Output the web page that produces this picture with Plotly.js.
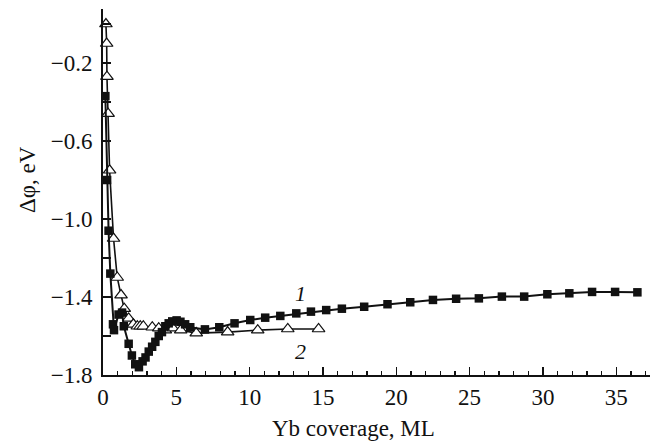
<!DOCTYPE html>
<html>
<head>
<meta charset="utf-8">
<script src="https://cdn.plot.ly/plotly-3.0.1.min.js"></script>
<style>
  html, body { margin: 0; padding: 0; background: #fff; }
  #chart { width: 651px; height: 447px; }
</style>
</head>
<body>
<div id="chart"></div>
<script>
// Curve 1: work-function change, filled squares
const cov1 = [0.16, 0.28, 0.38, 0.5, 0.68, 0.75, 1.06, 1.3, 1.42, 1.75, 1.97, 2.2, 2.45, 2.7, 2.9, 3.12, 3.35, 3.57, 3.8, 4.02, 4.25, 4.48, 4.72, 5.02, 5.28, 5.6, 5.95, 6.95, 7.93, 8.97, 10.04, 11.06, 12.09, 13.18, 14.18, 15.22, 16.29, 17.81, 19.4, 20.95, 22.5, 24.08, 25.63, 27.2, 28.72, 30.3, 31.8, 33.35, 34.92, 36.44];
const dphi1 = [-0.37, -0.80, -1.06, -1.28, -1.54, -1.57, -1.49, -1.48, -1.55, -1.64, -1.70, -1.745, -1.76, -1.73, -1.71, -1.68, -1.655, -1.63, -1.60, -1.58, -1.55, -1.535, -1.525, -1.52, -1.527, -1.54, -1.555, -1.566, -1.555, -1.535, -1.518, -1.506, -1.497, -1.484, -1.475, -1.467, -1.46, -1.45, -1.437, -1.427, -1.415, -1.409, -1.407, -1.398, -1.398, -1.386, -1.381, -1.374, -1.374, -1.376];

// Curve 2: open triangles
const cov2 = [0.2, 0.25, 0.27, 0.35, 0.45, 0.72, 0.97, 1.23, 1.45, 1.75, 2.07, 2.34, 2.54, 2.75, 3.36, 3.8, 4.25, 4.77, 5.3, 6.36, 8.5, 10.55, 12.6, 14.7];
const dphi2 = [0.0, -0.10, -0.27, -0.46, -0.75, -1.10, -1.30, -1.39, -1.46, -1.51, -1.54, -1.55, -1.55, -1.55, -1.555, -1.56, -1.57, -1.56, -1.57, -1.585, -1.58, -1.57, -1.564, -1.564];

// Axis ticks
const xMajor = [0, 5, 10, 15, 20, 25, 30, 35];
const yMajor = [-0.2, -0.6, -1.0, -1.4, -1.8];
const yMajorText = ['\u22120.2', '\u22120.6', '\u22121.0', '\u22121.4', '\u22121.8'];
const yMinor = [0, -0.4, -0.8, -1.2, -1.6];

const serif = 'Liberation Serif, Times New Roman, serif';

const traces = [
  {
    x: cov2, y: dphi2, type: 'scatter', mode: 'lines+markers',
    line: { color: '#111', width: 1.6 },
    marker: { symbol: 'triangle-up', size: 11, color: '#fff', line: { color: '#111', width: 1.2 } },
    cliponaxis: false, showlegend: false
  },
  {
    x: cov1, y: dphi1, type: 'scatter', mode: 'lines+markers',
    line: { color: '#111', width: 2 },
    marker: { symbol: 'square', size: 8.5, color: '#111' },
    cliponaxis: false, showlegend: false
  }
];

const layout = {
  width: 651, height: 447,
  margin: { l: 103, r: 1, t: 9, b: 72 },
  paper_bgcolor: '#fff', plot_bgcolor: '#fff',
  font: { family: serif, size: 23, color: '#111' },
  showlegend: false,
  xaxis: {
    range: [0, 37.3], showgrid: false, zeroline: false,
    showline: true, linecolor: '#111', linewidth: 2,
    ticks: 'inside', ticklen: 8, tickwidth: 1.5, tickcolor: '#111',
    tickmode: 'array', tickvals: xMajor,
    minor: { dtick: 1, tick0: 0, ticks: 'inside', ticklen: 4, tickwidth: 1.2, tickcolor: '#111', showgrid: false },
    tickfont: { family: serif, size: 23, color: '#111' }
  },
  yaxis: {
    range: [-1.8, 0.077], showgrid: false, zeroline: false,
    showline: true, linecolor: '#111', linewidth: 2,
    ticks: 'inside', ticklen: 8, tickwidth: 1.5, tickcolor: '#111',
    tickmode: 'array', tickvals: yMajor, ticktext: yMajorText,
    ticklabelstandoff: 4,
    minor: { tickmode: 'array', tickvals: yMinor, ticks: 'inside', ticklen: 8, tickwidth: 1.5, tickcolor: '#111', showgrid: false },
    tickfont: { family: serif, size: 23, color: '#111' }
  },
  annotations: [
    { text: 'Yb coverage, ML', xref: 'paper', yref: 'paper', x: (353 - 103) / 547, y: -(428 - 375) / 366,
      xanchor: 'center', yanchor: 'middle', showarrow: false, font: { family: serif, size: 23, color: '#111' } },
    { text: '\u0394\u03c6, eV', xref: 'paper', yref: 'paper', x: (27 - 103) / 547, y: (375 - 180) / 366,
      xanchor: 'center', yanchor: 'middle', textangle: -90, showarrow: false, font: { family: serif, size: 23, color: '#111' } },
    { text: '<i>1</i>', x: 13.47, y: -1.382, showarrow: false, font: { family: serif, size: 22, color: '#111' } },
    { text: '<i>2</i>', x: 13.47, y: -1.68, showarrow: false, font: { family: serif, size: 22, color: '#111' } }
  ]
};

Plotly.newPlot('chart', traces, layout, { displayModeBar: false, staticPlot: true });
</script>
</body>
</html>
